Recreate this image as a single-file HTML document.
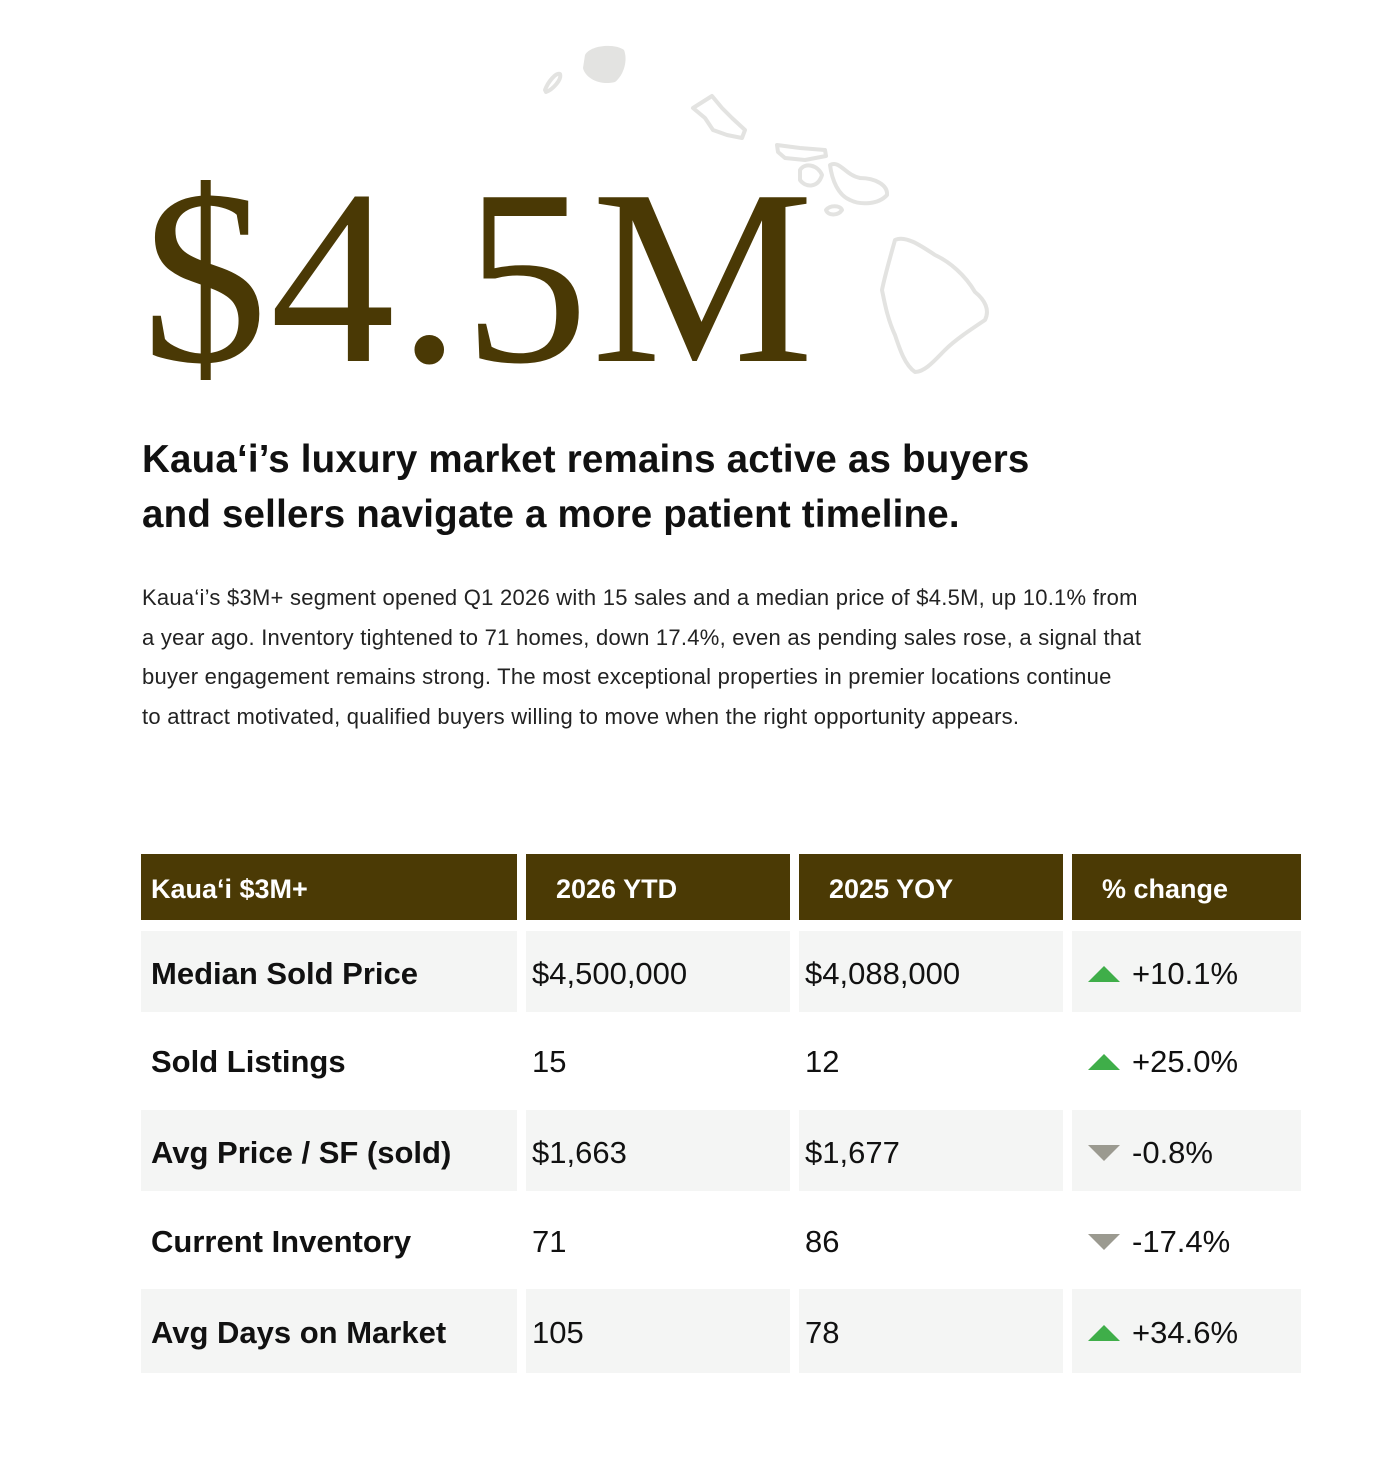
<!DOCTYPE html>
<html><head><meta charset="utf-8"><style>
*{margin:0;padding:0;box-sizing:border-box}
body{width:1386px;height:1460px;background:#fff;position:relative;overflow:hidden;font-family:"Liberation Sans",sans-serif;color:#111}
.abs{position:absolute}
#big{left:142px;top:128px;font-family:"Liberation Serif",serif;font-size:250px;line-height:300px;color:#4a3905;letter-spacing:3px;white-space:nowrap}
#head{left:142px;top:432px;font-size:38.5px;font-weight:bold;line-height:55px;letter-spacing:0.2px;color:#111}
#para{left:142px;top:578px;font-size:22px;line-height:39.7px;color:#222;width:1100px;letter-spacing:0.25px}
.cell{position:absolute;display:flex;align-items:center;font-size:31px;color:#111;padding-top:4px}
.hd{background:#4b3a05;color:#fff;font-weight:bold;font-size:27px}
.gr{background:#f4f5f4}
.lab{font-weight:bold;padding-left:10px}
.tri{width:0;height:0;border-left:16px solid transparent;border-right:16px solid transparent;margin-right:12px;margin-left:16px}
.up{border-bottom:16px solid #3fae49}
.dn{border-top:16px solid #9b9a90}
</style></head><body>
<svg class="abs" style="left:0;top:0" width="1386" height="400" fill="none" stroke="#e3e3e1" stroke-width="4" stroke-linejoin="round">
<path d="M585,55 C590,45 615,43 624,50 C628,60 624,75 615,82 C600,86 585,78 583,68 Z" fill="#e3e3e1" stroke="none"/>
<path d="M545,90 C548,82 556,72 560,74 C562,80 552,90 546,92 Z"/>
<path d="M693,108 L712,96 L722,108 L732,118 L745,130 L742,138 L727,135 L713,130 L705,118 Z"/>
<path d="M777,145 L800,148 L825,150 L826,156 L805,160 L785,158 L778,152 Z"/>
<path d="M800,170 C805,162 818,165 822,175 C818,188 806,188 800,180 Z"/>
<path d="M830,165 C840,160 845,175 860,178 C875,178 888,185 887,195 C878,205 860,205 850,200 C838,195 832,180 830,165 Z"/>
<path d="M826,210 C830,205 840,205 842,210 C838,216 828,216 826,210 Z"/>
<path d="M895,240 C905,235 920,245 935,255 C950,262 965,275 975,292 C985,300 990,310 985,320 C970,330 955,340 945,350 C935,360 925,372 915,372 C905,365 900,350 895,335 C888,320 885,305 882,290 C885,275 890,258 895,240 Z"/>
</svg>
<div id="big" class="abs">$4.5M</div>
<div id="head" class="abs">Kaua‘i’s luxury market remains active as buyers<br>and sellers navigate a more patient timeline.</div>
<div id="para" class="abs">Kaua‘i’s $3M+ segment opened Q1 2026 with 15 sales and a median price of $4.5M, up 10.1% from<br>a year ago. Inventory tightened to 71 homes, down 17.4%, even as pending sales rose, a signal that<br>buyer engagement remains strong. The most exceptional properties in premier locations continue<br>to attract motivated, qualified buyers willing to move when the right opportunity appears.</div>
<div id="table"></div>
<script>
const headers=["Kaua‘i $3M+","2026 YTD","2025 YOY","% change"];
const labels=["Median Sold Price","Sold Listings","Avg Price / SF (sold)","Current Inventory","Avg Days on Market"];
const ytd=["$4,500,000","15","$1,663","71","105"];
const yoy=["$4,088,000","12","$1,677","86","78"];
const changes=[10.1,25.0,-0.8,-17.4,34.6];
const colX=[141,526,799,1072], colW=[376,264,264,229];
const rowY=[931,1020,1110,1200,1289], rowH=[81,80,81,80,84];
const t=document.getElementById('table');
function cell(x,y,w,h,cls,html){const d=document.createElement('div');d.className='cell '+cls;d.style.left=x+'px';d.style.top=y+'px';d.style.width=w+'px';d.style.height=h+'px';d.innerHTML=html;t.appendChild(d);return d;}
headers.forEach((h,i)=>{const c=cell(colX[i],854,colW[i],66,'hd',h);c.style.paddingLeft=(i==0?10:30)+'px';

});
labels.forEach((l,r)=>{const g=r%2==0?'gr':'';
const a=cell(colX[0],rowY[r],colW[0],rowH[r],g+' lab',l);


const b=cell(colX[1],rowY[r],colW[1],rowH[r],g,ytd[r]);b.style.paddingLeft='6px';


const c=cell(colX[2],rowY[r],colW[2],rowH[r],g,yoy[r]);c.style.paddingLeft='6px';


const v=changes[r];const s=(v>=0?'+':'')+v.toFixed(1)+'%';
const d=cell(colX[3],rowY[r],colW[3],rowH[r],g,'<span class="tri '+(v>=0?'up':'dn')+'"></span>'+s);

});
</script>
</body></html>
